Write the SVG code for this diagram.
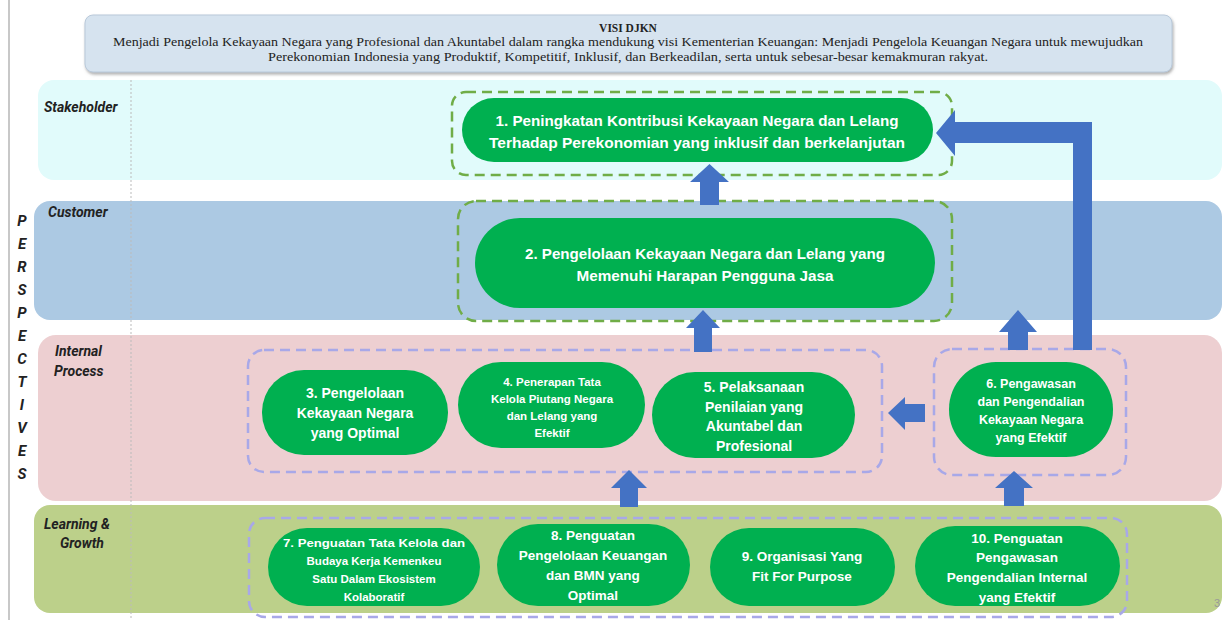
<svg xmlns="http://www.w3.org/2000/svg" width="1225" height="620" viewBox="0 0 1225 620">
<defs>
<filter id="sh" x="-5%" y="-20%" width="110%" height="150%"><feDropShadow dx="1" dy="2" stdDeviation="1.5" flood-color="#777" flood-opacity="0.6"/></filter>
<style>
.band-label{font-family:"Roboto","Liberation Sans",sans-serif;font-weight:bold;font-style:italic;font-size:14px;fill:#222}
.persp{font-family:"Roboto","Liberation Sans",sans-serif;font-weight:bold;font-style:italic;font-size:15px;fill:#222;text-anchor:middle}
.pill{fill:#00b050}
.nt{font-family:"Liberation Sans","Noto Sans",sans-serif;font-weight:bold;fill:#fff;text-anchor:middle}
.gdash{fill:none;stroke:#70ad47;stroke-width:2.5;stroke-dasharray:10 6}
.pdash{fill:none;stroke:#a8a8e8;stroke-width:2.5;stroke-dasharray:10 6}
.arrow{fill:#4472c4}
.visi{font-family:"Liberation Serif",serif;font-size:11.5px;fill:#222;text-anchor:middle}
</style>
</defs>
<rect width="1225" height="620" fill="#fff"/>
<line x1="9" y1="0" x2="9" y2="620" stroke="#c8c8c8" stroke-width="2"/>

<g id="visi">
<rect x="85" y="15" width="1087" height="57" rx="8" fill="#d6e3ef" stroke="#b9c9da" stroke-width="1" filter="url(#sh)"/>
<text class="visi" x="628" y="32" font-weight="bold">VISI DJKN</text>
<text class="visi" x="628" y="46" textLength="1030" lengthAdjust="spacingAndGlyphs">Menjadi Pengelola Kekayaan Negara yang Profesional dan Akuntabel dalam rangka mendukung visi Kementerian Keuangan: Menjadi Pengelola Keuangan Negara untuk mewujudkan</text>
<text class="visi" x="628" y="61" textLength="720" lengthAdjust="spacingAndGlyphs">Perekonomian Indonesia yang Produktif, Kompetitif, Inklusif, dan Berkeadilan, serta untuk sebesar-besar kemakmuran rakyat.</text>
</g>

<g id="bands">
<rect x="38" y="80" width="1184" height="100" rx="16" fill="#e1fbfb"/>
<rect x="34" y="201" width="1188" height="119" rx="16" fill="#acc9e3"/>
<rect x="38" y="335" width="1184" height="166" rx="18" fill="#edcfd1"/>
<rect x="34" y="505" width="1188" height="108" rx="16" fill="#bcd08a"/>
<line x1="131" y1="80" x2="131" y2="620" stroke="#bbb" stroke-width="1" stroke-dasharray="2 2"/>
<text class="band-label" x="44" y="112">Stakeholder</text>
<text class="band-label" x="48" y="217">Customer</text>
<text class="band-label" x="55" y="356">Internal</text>
<text class="band-label" x="54" y="376">Process</text>
<text class="band-label" x="44" y="529">Learning &amp;</text>
<text class="band-label" x="60" y="548">Growth</text>
</g>

<g id="perspectives">
<text class="persp" x="22" y="226">P</text>
<text class="persp" x="22" y="249">E</text>
<text class="persp" x="22" y="272">R</text>
<text class="persp" x="22" y="295">S</text>
<text class="persp" x="22" y="318">P</text>
<text class="persp" x="22" y="341">E</text>
<text class="persp" x="22" y="364">C</text>
<text class="persp" x="22" y="387">T</text>
<text class="persp" x="22" y="410">I</text>
<text class="persp" x="22" y="433">V</text>
<text class="persp" x="22" y="456">E</text>
<text class="persp" x="22" y="479">S</text>
</g>

<g id="groups">
<rect class="gdash" x="452" y="92" width="500" height="83" rx="14"/>
<rect class="gdash" x="458" y="201" width="494" height="120" rx="18"/>
<rect class="pdash" x="248" y="350" width="634" height="122" rx="16"/>
<rect class="pdash" x="934" y="349" width="192" height="126" rx="18"/>
<rect class="pdash" x="249" y="518" width="878" height="99" rx="16"/>
</g>

<g id="connectors">
<polygon class="arrow" points="700,205 700,182 690,182 709.5,164 729,182 719,182 719,205"/>
<polygon class="arrow" points="694,352 694,328 686,328 703,310 720,328 712,328 712,352"/>
<polygon class="arrow" points="620,507 620,488 611,488 629,470 647,488 638,488 638,507"/>
<polygon class="arrow" points="1008,350 1008,332 999,332 1018,310 1037,332 1028,332 1028,350"/>
<polygon class="arrow" points="1004,506 1004,488 995,488 1014,471 1033,488 1024,488 1024,506"/>
<polygon class="arrow" points="925,404 905,404 905,397 888,413 905,430 905,422 925,422"/>
<polygon class="arrow" points="1092,350 1092,122 955,122 955,110 936,133 955,156 955,143 1073,143 1073,350"/>
</g>

<g id="node1">
<rect class="pill" x="462" y="98" width="471" height="64" rx="32"/>
<text class="nt" font-size="14.5" x="697" y="126" textLength="403" lengthAdjust="spacingAndGlyphs">1. Peningkatan Kontribusi Kekayaan Negara dan Lelang</text>
<text class="nt" font-size="14.5" x="697" y="148" textLength="416" lengthAdjust="spacingAndGlyphs">Terhadap Perekonomian yang inklusif dan berkelanjutan</text>
</g>

<g id="node2">
<rect class="pill" x="475" y="218" width="460" height="90" rx="45"/>
<text class="nt" font-size="14.5" x="705" y="259" textLength="360" lengthAdjust="spacingAndGlyphs">2. Pengelolaan Kekayaan Negara dan Lelang yang</text>
<text class="nt" font-size="14.5" x="705" y="281" textLength="257" lengthAdjust="spacingAndGlyphs">Memenuhi Harapan Pengguna Jasa</text>
</g>

<g id="node3">
<rect class="pill" x="262" y="370" width="186" height="85" rx="42"/>
<text class="nt" font-size="14" x="355" y="398">3. Pengelolaan</text>
<text class="nt" font-size="14" x="355" y="418">Kekayaan Negara</text>
<text class="nt" font-size="14" x="355" y="438">yang Optimal</text>
</g>

<g id="node4">
<rect class="pill" x="458" y="362" width="187" height="86" rx="43"/>
<text class="nt" font-size="11.5" x="552" y="386">4. Penerapan Tata</text>
<text class="nt" font-size="11.5" x="552" y="403">Kelola Piutang Negara</text>
<text class="nt" font-size="11.5" x="552" y="420">dan Lelang yang</text>
<text class="nt" font-size="11.5" x="552" y="437">Efektif</text>
</g>

<g id="node5">
<rect class="pill" x="652" y="372" width="203" height="86" rx="43"/>
<text class="nt" font-size="14" x="754" y="392">5. Pelaksanaan</text>
<text class="nt" font-size="14" x="754" y="412">Penilaian yang</text>
<text class="nt" font-size="14" x="754" y="431">Akuntabel dan</text>
<text class="nt" font-size="14" x="754" y="451">Profesional</text>
</g>

<g id="node6">
<rect class="pill" x="949" y="362" width="164" height="95" rx="47"/>
<text class="nt" font-size="12.5" x="1031" y="388">6. Pengawasan</text>
<text class="nt" font-size="12.5" x="1031" y="406">dan Pengendalian</text>
<text class="nt" font-size="12.5" x="1031" y="424">Kekayaan Negara</text>
<text class="nt" font-size="12.5" x="1031" y="442">yang Efektif</text>
</g>

<g id="node7">
<rect class="pill" x="268" y="528" width="212" height="78" rx="39"/>
<text class="nt" font-size="11.5" x="374" y="547" textLength="182" lengthAdjust="spacingAndGlyphs">7. Penguatan Tata Kelola dan</text>
<text class="nt" font-size="11.5" x="374" y="565">Budaya Kerja Kemenkeu</text>
<text class="nt" font-size="11.5" x="374" y="583">Satu Dalam Ekosistem</text>
<text class="nt" font-size="11.5" x="374" y="601">Kolaboratif</text>
</g>

<g id="node8">
<rect class="pill" x="497" y="524" width="193" height="82" rx="41"/>
<text class="nt" font-size="13.5" x="593" y="540">8. Penguatan</text>
<text class="nt" font-size="13.5" x="593" y="560">Pengelolaan Keuangan</text>
<text class="nt" font-size="13.5" x="593" y="580">dan BMN yang</text>
<text class="nt" font-size="13.5" x="593" y="600">Optimal</text>
</g>

<g id="node9">
<rect class="pill" x="710" y="528" width="185" height="78" rx="39"/>
<text class="nt" font-size="13.5" x="802" y="561">9. Organisasi Yang</text>
<text class="nt" font-size="13.5" x="802" y="581">Fit For Purpose</text>
</g>

<g id="node10">
<rect class="pill" x="915" y="526" width="205" height="80" rx="40"/>
<text class="nt" font-size="13.5" x="1017" y="543">10. Penguatan</text>
<text class="nt" font-size="13.5" x="1017" y="562">Pengawasan</text>
<text class="nt" font-size="13.5" x="1017" y="582">Pengendalian Internal</text>
<text class="nt" font-size="13.5" x="1017" y="602">yang Efektif</text>
</g>

<text x="1214" y="607" font-family="Liberation Sans,sans-serif" font-size="11" fill="#999">3</text>
</svg>
